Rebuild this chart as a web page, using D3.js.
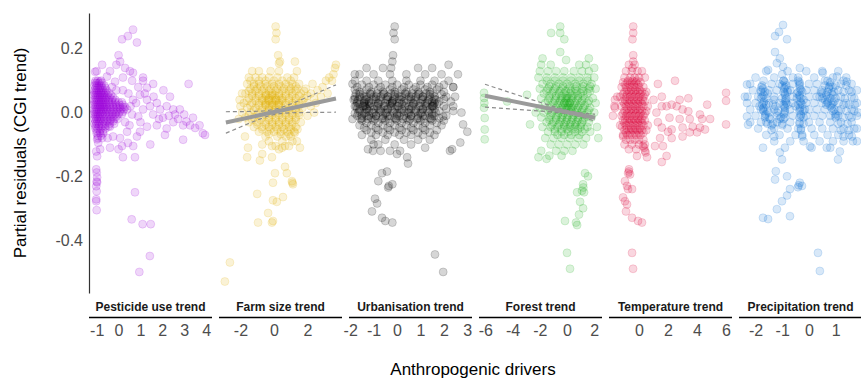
<!DOCTYPE html>
<html><head><meta charset="utf-8">
<script src="https://cdn.jsdelivr.net/npm/d3@7/dist/d3.min.js"></script>
<style>body{margin:0;background:#fff}svg{display:block;font-family:"Liberation Sans",Arial,sans-serif}</style>
</head><body>
<script>
const panels = ["Pesticide use trend","Farm size trend","Urbanisation trend","Forest trend","Temperature trend","Precipitation trend"];
const colors = ["#9B00D9","#E2AE00","#000000","#1DAF1D","#DC0035","#0B6FD6"];
const xLimits = [[-1.35,4.27],[-3.28,4.06],[-2.05,3.2],[-6.47,2.57],[-2.07,6.41],[-2.62,1.99]];
const xTicks = [[-1,0,1,2,3,4],[-2,0,2],[-2,-1,0,1,2,3],[-6,-4,-2,0,2],[0,2,4,6],[-2,-1,0,1]];
const yLimits = [-0.566,0.3125];
const yTicks = [-0.4,-0.2,0.0,0.2];
const yTickLabels = ["-0.4","-0.2","0.0","0.2"];
const yTitle = "Partial residuals (CGI trend)";
const xTitle = "Anthropogenic drivers";

// dense cores: [y, [x...]]
const pestRows = [
[0.10,[-1.05,-0.95,-0.8]],[0.085,[-1.1,-1.0,-0.9,-0.8,-0.65]],[0.07,[-1.1,-1.0,-0.9,-0.8,-0.7,-0.55]],
[0.055,[-1.15,-1.05,-0.95,-0.85,-0.75,-0.65,-0.5,-0.35]],[0.04,[-1.1,-1.0,-0.9,-0.8,-0.7,-0.6,-0.45,-0.3,-0.15]],
[0.025,[-1.15,-1.05,-0.95,-0.85,-0.75,-0.65,-0.55,-0.4,-0.25,-0.1,0.05,0.2]],[0.01,[-1.1,-1.0,-0.9,-0.8,-0.7,-0.6,-0.5,-0.35,-0.2,-0.05,0.1,0.25]],
[-0.005,[-1.15,-1.05,-0.95,-0.85,-0.75,-0.6,-0.45,-0.3,-0.15,0.0,0.15]],[-0.02,[-1.1,-1.0,-0.9,-0.8,-0.65,-0.5,-0.35,-0.2,-0.05]],
[-0.035,[-1.1,-1.0,-0.9,-0.75,-0.6,-0.4,-0.2]],[-0.05,[-1.05,-0.95,-0.8,-0.6]],[-0.065,[-1.0,-0.85,-0.7]],[-0.08,[-0.95,-0.75,-0.5]],
[0.0925,[-1.0,-0.9,-0.75]],[0.0775,[-1.05,-0.95,-0.85,-0.75,-0.6]],[0.0625,[-1.1,-1.0,-0.9,-0.8,-0.7,-0.6,-0.45]],
[0.0475,[-1.05,-0.95,-0.85,-0.75,-0.65,-0.55,-0.4,-0.25]],[0.0325,[-1.1,-1.0,-0.9,-0.8,-0.7,-0.6,-0.45,-0.3,-0.15,0.0,0.15]],
[0.0175,[-1.05,-0.95,-0.85,-0.75,-0.65,-0.55,-0.4,-0.25,-0.1,0.05,0.2,0.3]],[0.0025,[-1.1,-1.0,-0.9,-0.8,-0.7,-0.55,-0.4,-0.25,-0.1,0.05,0.2]],
[-0.0125,[-1.05,-0.95,-0.85,-0.7,-0.55,-0.4,-0.25,-0.1]],[-0.0275,[-1.05,-0.95,-0.85,-0.7,-0.55,-0.4,-0.25]],
[-0.0425,[-1.05,-0.9,-0.75,-0.6,-0.45]],[-0.0575,[-1.0,-0.85,-0.7]],[-0.0725,[-0.95,-0.8]]];
const pestPoints = [[0.66,0.26],[0.43,0.24],[0.16,0.23],[0.84,0.22],[0.0,0.18],[0.07,0.16],[-0.1,0.15],[0.3,0.14],[0.52,0.13],[-0.39,0.13],[-1.0,0.13],[-0.75,0.15],[1.12,0.10],[1.58,0.09],[3.2,0.09],[2.05,0.07],[2.35,0.05],[1.2,0.06],[1.3,0.04],[1.75,0.03],[2.8,0.01],[3.0,-0.006],[3.4,-0.016],[3.7,-0.04],[3.95,-0.07],[3.85,-0.065],[2.95,-0.04],[2.5,-0.03],[2.2,-0.05],[2.95,-0.085],[1.75,-0.04],[1.45,-0.1],[0.84,-0.075],[0.67,-0.105],[0.75,-0.14],[0.2,-0.14],[-0.39,-0.11],[0.0,-0.115],[-0.84,-0.115],[-0.93,-0.095],[0.75,-0.25],[0.6,-0.335],[1.1,-0.35],[1.47,-0.35],[1.43,-0.45],[0.95,-0.5],
[0.62,0.10],[0.9,0.08],[1.3,0.078],[0.98,0.056],[0.66,0.04],[0.39,0.01],[0.62,-0.006],[0.9,-0.012],[1.12,0.01],[1.44,0.02],[1.58,-0.006],[2.03,-0.016],[1.9,0.01],[2.2,0.02],[2.58,-0.006],[2.72,-0.02],[3.1,-0.028],[3.27,-0.04],[3.5,-0.048],[2.5,0.01],[2.12,-0.07],[1.3,-0.044],[0.98,-0.06],[0.39,-0.06],[0.07,-0.08],[-0.25,-0.075],[0.43,-0.095],[0.16,-0.105],[-0.39,-0.044],[1.12,0.11],[0.66,0.125],[0.2,0.11],[-0.16,0.097],[-0.53,0.113],[-0.85,0.097],[-1.07,0.128],[-1.07,0.094],
[-0.98,-0.084],[-1.02,-0.122],[-0.98,-0.137],[-1.02,-0.178],[-1.0,-0.188],[-0.98,-0.203],[-1.0,-0.216],[-0.98,-0.219],[-1.02,-0.231],[-1.0,-0.247],[-1.02,-0.272],[-1.02,-0.278],[-1.0,-0.306],
[0.45,0.06],[0.55,0.02],[0.3,-0.03],[0.5,-0.04],[0.8,0.03],[1.0,-0.03],[1.6,0.05],[1.85,-0.02],[2.3,-0.01],[0.2,0.07],[-0.1,0.07],[-0.3,0.08]];

const farmRows = [
[0.13,[-1.3,-0.9,-0.2,0.3]],[0.11,[-1.5,-1.1,-0.7,-0.3,0.2,0.8,1.2]],[0.09,[-1.6,-1.2,-0.9,-0.5,-0.1,0.3,0.7,1.1,1.5]],
[0.075,[-1.4,-1.0,-0.6,-0.2,0.2,0.6,1.0,1.4,1.9]],[0.06,[-1.7,-1.3,-0.9,-0.5,-0.1,0.3,0.7,1.1,1.6,2.2]],
[0.045,[-1.5,-1.1,-0.7,-0.3,0.1,0.5,0.9,1.3,1.8,2.4]],[0.03,[-1.8,-1.3,-0.9,-0.5,-0.1,0.3,0.7,1.1,1.5,2.0]],
[0.015,[-1.6,-1.1,-0.7,-0.3,0.1,0.5,0.9,1.3,1.7]],[0.0,[-1.9,-1.4,-0.9,-0.5,-0.1,0.3,0.7,1.1,1.5]],
[-0.015,[-1.7,-1.2,-0.7,-0.3,0.1,0.5,0.9,1.3]],[-0.03,[-1.5,-1.0,-0.5,-0.1,0.3,0.7,1.1,1.6]],
[-0.045,[-1.2,-0.7,-0.3,0.1,0.5,0.9,1.3]],[-0.06,[-0.9,-0.4,0.0,0.4,0.8,1.2]],[-0.075,[-0.5,0.2,0.7,1.0]],[-0.09,[-0.3,0.5,1.1]],[-0.105,[0.1,0.9]],
[0.1,[-1.4,-0.9,-0.5,0.0,0.5,1.0]],[0.0825,[-1.2,-0.8,-0.4,0.0,0.4,0.9,1.3]],[0.0675,[-1.5,-1.1,-0.7,-0.3,0.1,0.5,0.9,1.3,1.8]],
[0.0525,[-1.3,-0.9,-0.5,-0.1,0.3,0.7,1.1,1.5,2.0]],[0.0375,[-1.6,-1.1,-0.7,-0.3,0.1,0.5,0.9,1.3,1.7]],
[0.0225,[-1.4,-0.9,-0.5,-0.1,0.3,0.7,1.1,1.5]],[0.0075,[-1.2,-0.7,-0.3,0.1,0.5,0.9,1.3]],
[-0.0075,[-1.5,-1.0,-0.5,-0.1,0.3,0.7,1.1,1.5]],[-0.0225,[-1.3,-0.8,-0.3,0.1,0.5,0.9,1.3]],
[-0.0375,[-1.0,-0.5,-0.1,0.3,0.7,1.1]],[-0.0525,[-0.7,-0.2,0.2,0.6,1.0,1.4]],[-0.0675,[-0.3,0.4,0.9]],
[0.04,[-0.6,-0.35,-0.1,0.15,0.4]],[0.025,[-0.5,-0.25,0.0,0.25]],[0.055,[-0.45,-0.2,0.05]]];
const farmPoints = [[2.3,0.09],[2.6,0.07],[2.9,0.08],[3.1,0.1],[3.3,0.11],[3.46,0.10],[3.55,0.12],[3.64,0.14],[3.7,0.15],[2.8,0.05],[3.2,0.06],[2.5,0.03],[2.2,0.02],[2.0,-0.01],[2.4,0.0],
[0.1,0.27],[0.15,0.25],[0.1,0.23],[0.25,0.18],[0.36,0.16],[1.25,0.16],[1.37,0.13],[0.3,0.155],
[-1.73,-0.075],[-1.6,-0.14],[-1.55,-0.11],[-0.84,-0.15],[-0.7,-0.13],[-0.12,-0.14],[-2.0,0.02],[-2.1,-0.02],[-1.9,0.06],[-2.05,0.04],
[0.66,-0.17],[0.06,-0.19],[0.77,-0.19],[1.07,-0.215],[1.13,-0.225],[1.1,-0.22],[-0.06,-0.22],[0.54,-0.265],[0.17,-0.28],[-0.06,-0.275],[-1.0,-0.255],[-0.35,-0.315],[-0.95,-0.345],[-0.12,-0.345],[-0.06,-0.34],
[-2.63,-0.47],[-2.93,-0.53],
[1.37,-0.09],[1.55,-0.11],[1.25,-0.063],[0.66,-0.105],[0.48,-0.11],[0.3,-0.115],[-0.12,-0.105],[-0.7,-0.1]];
const farmFit = {x:[-2.87,3.7], y:[-0.031,0.044]};
const farmCI = {x:[-2.87,-2,-1,0,1,2,3,3.7], hi:[0.0027,0.0032,0.0043,0.0098,0.0271,0.0488,0.0712,0.087], lo:[-0.0647,-0.0452,-0.0235,-0.0062,-0.0007,0.0004,0.0010,0.0012]};

const urbRows = [
[0.14,[-1.3,-0.6,0.9,1.5]],[0.12,[-1.6,-1.0,-0.3,0.4,1.2,1.9]],[0.10,[-1.8,-1.3,-0.8,-0.2,0.4,1.0,1.6,2.2]],
[0.08,[-1.7,-1.2,-0.7,-0.2,0.3,0.8,1.3,1.8,2.4]],[0.065,[-1.6,-1.1,-0.6,-0.1,0.4,0.9,1.4,2.0]],
[0.05,[-1.8,-1.4,-0.9,-0.4,0.1,0.6,1.1,1.6,2.1]],[0.035,[-1.7,-1.2,-0.7,-0.2,0.3,0.8,1.3,1.8,2.3]],
[0.02,[-1.8,-1.4,-1.0,-0.5,0.0,0.5,1.0,1.5,2.0]],[0.005,[-1.6,-1.2,-0.7,-0.2,0.3,0.8,1.3,1.8,2.4]],
[-0.01,[-1.7,-1.3,-0.9,-0.4,0.1,0.6,1.1,1.6,2.1]],[-0.025,[-1.5,-1.0,-0.5,0.0,0.5,1.0,1.5,2.0]],
[-0.04,[-1.6,-1.1,-0.6,-0.1,0.4,0.9,1.4,1.9]],[-0.055,[-1.3,-0.8,-0.3,0.2,0.7,1.2,1.7]],
[-0.07,[-1.5,-0.9,-0.4,0.1,0.6,1.1,1.6]],[-0.085,[-1.1,-0.5,0.3,0.9,1.4]],[-0.1,[-0.8,-0.1,0.6]],
[0.0875,[-1.5,-1.0,-0.5,0.0,0.5,1.0,1.5,2.0]],[0.0725,[-1.8,-1.3,-0.8,-0.3,0.2,0.7,1.2,1.7]],
[0.0575,[-1.6,-1.1,-0.6,-0.1,0.4,0.9,1.4,1.9]],[0.0425,[-1.8,-1.3,-0.9,-0.4,0.1,0.6,1.1,1.6,2.0]],
[0.0275,[-1.6,-1.2,-0.8,-0.3,0.2,0.7,1.2,1.7]],[0.0125,[-1.7,-1.3,-0.8,-0.4,0.1,0.6,1.1,1.6,2.1]],
[-0.0025,[-1.8,-1.4,-1.0,-0.5,0.0,0.5,1.0,1.5]],[-0.0175,[-1.5,-1.1,-0.6,-0.1,0.4,0.9,1.4,1.8]],
[-0.0325,[-1.3,-0.8,-0.3,0.2,0.7,1.2,1.7]],[-0.0475,[-1.4,-0.9,-0.4,0.1,0.6,1.1]],[-0.0625,[-1.1,-0.6,-0.1,0.4,0.9,1.4]],
[0.06,[-1.75,-1.45,-1.15,-0.85,-0.55,-0.25,0.05,0.35,0.65,0.95,1.25,1.55]],
[0.04,[-1.65,-1.35,-1.05,-0.75,-0.45,-0.15,0.15,0.45,0.75,1.05,1.35,1.65]],
[0.02,[-1.75,-1.45,-1.15,-0.85,-0.55,-0.25,0.05,0.35,0.65,0.95,1.25,1.55]],
[0.0,[-1.65,-1.35,-1.05,-0.75,-0.45,-0.15,0.15,0.45,0.75,1.05,1.35,1.65]],
[-0.02,[-1.55,-1.25,-0.95,-0.65,-0.35,-0.05,0.25,0.55,0.85,1.15,1.45]],
[0.05,[-1.6,-1.3,-1.0,-0.7,-0.4,-0.1,0.2,0.5,0.8,1.1,1.4]],
[0.03,[-1.7,-1.4,-1.1,-0.8,-0.5,-0.2,0.1,0.4,0.7,1.0,1.3,1.6]],
[0.01,[-1.6,-1.3,-1.0,-0.7,-0.4,-0.1,0.2,0.5,0.8,1.1,1.4]],
[-0.01,[-1.5,-1.2,-0.9,-0.6,-0.3,0.0,0.3,0.6,0.9,1.2,1.5]],
[0.035,[-1.4,-0.2,1.5]],[0.02,[-1.35,1.5]]];
const urbPoints = [[-1.37,0.025],[1.54,0.025],[-0.2,0.03],[-1.0,-0.1],[-0.7,-0.12],
[-0.1,0.27],[-0.15,0.25],[-0.1,0.23],[-0.17,0.18],[-0.2,0.16],[-0.25,0.14],
[-0.43,-0.185],[-0.64,-0.19],[-0.2,-0.225],[-0.38,-0.235],[-0.35,-0.23],[-0.8,-0.215],[-0.94,-0.27],[-0.85,-0.285],[-1.07,-0.31],[-0.64,-0.33],[-0.5,-0.34],[-0.2,-0.345],
[1.62,-0.445],[1.97,-0.5],
[-1.24,-0.115],[-1.03,-0.12],[0.13,-0.12],[0.43,-0.14],[0.47,-0.16],[1.2,-0.11],[2.26,-0.12],[0.0,-0.13],[-0.3,-0.12],
[2.4,0.08],[2.48,0.05],[2.4,0.02],[1.97,-0.012],[2.82,-0.037],[3.0,-0.06],[2.7,-0.094],[2.35,-0.115],[2.6,0.12],[2.2,0.15],[2.75,0.0],
[-1.9,0.09],[-1.85,0.04],[-1.9,-0.02],[-1.8,0.12]];

const forestRows = [
[0.15,[-1.9,-1.2,0.9,1.4]],[0.13,[-2.0,-1.4,-0.8,-0.2,0.5,1.1,1.6]],[0.11,[-2.1,-1.5,-0.9,-0.3,0.3,0.9,1.5,2.0]],
[0.09,[-1.8,-1.2,-0.6,0.0,0.6,1.2,1.8]],[0.075,[-2.0,-1.4,-0.9,-0.4,0.1,0.6,1.1,1.6,2.1]],
[0.06,[-1.7,-1.1,-0.6,-0.2,0.2,0.6,1.0,1.5]],[0.045,[-1.9,-1.3,-0.8,-0.4,0.0,0.4,0.8,1.3,1.9]],
[0.03,[-1.6,-1.0,-0.6,-0.2,0.2,0.6,1.0,1.5,2.1]],[0.015,[-2.0,-1.3,-0.8,-0.4,0.0,0.4,0.8,1.2,1.7]],
[0.0,[-1.7,-1.1,-0.6,-0.2,0.2,0.6,1.0,1.5,2.0]],[-0.015,[-1.9,-1.3,-0.8,-0.4,0.0,0.4,0.8,1.3,1.8]],
[-0.03,[-1.5,-1.0,-0.5,-0.1,0.3,0.7,1.1,1.6]],[-0.045,[-1.8,-1.2,-0.7,-0.2,0.2,0.6,1.0,1.5,2.2]],
[-0.06,[-1.4,-0.9,-0.4,0.1,0.6,1.1,1.7]],[-0.08,[-1.6,-1.0,-0.4,0.2,0.8,1.4]],[-0.1,[-1.2,-0.6,0.0,0.6,1.2]],
[-0.12,[-1.9,-0.8,-0.2,0.4]],[-0.135,[-1.3,-0.4]],
[0.1,[-1.5,-0.9,-0.3,0.3,0.9,1.5]],[0.0825,[-1.3,-0.8,-0.3,0.2,0.7,1.2,1.7]],[0.0675,[-1.5,-1.0,-0.5,-0.1,0.3,0.7,1.2,1.7]],
[0.0525,[-1.3,-0.8,-0.4,0.0,0.4,0.8,1.2]],[0.0375,[-1.4,-0.9,-0.5,-0.1,0.3,0.7,1.1,1.6]],[0.0225,[-1.2,-0.7,-0.3,0.1,0.5,0.9,1.3]],
[0.0075,[-1.4,-0.9,-0.5,-0.1,0.3,0.7,1.1,1.6]],[-0.0075,[-1.2,-0.7,-0.3,0.1,0.5,0.9,1.3]],[-0.0225,[-1.3,-0.8,-0.4,0.0,0.4,0.8,1.2]],
[-0.0375,[-1.1,-0.6,-0.2,0.2,0.6,1.0]],[-0.0525,[-0.9,-0.4,0.0,0.4,0.8,1.3]],[-0.07,[-0.7,-0.2,0.3,0.9]],
[0.03,[-0.2,0.0,0.2]],[0.015,[-0.1,0.1,0.3]],[0.045,[-0.1,0.1]]];
const forestPoints = [[-6.1,0.062],[-6.1,0.046],[-6.08,0.03],[-6.1,0.015],[-6.05,-0.017],[-6.05,-0.053],[-6.05,-0.084],
[-4.4,0.035],[-2.94,0.056],[-2.72,-0.037],
[-0.5,0.27],[-1.17,0.25],[-0.5,0.25],[-0.2,0.23],[-0.5,0.19],[-0.07,0.165],
[1.32,-0.19],[1.54,-0.2],[1.18,-0.225],[1.1,-0.245],[1.25,-0.25],[0.74,-0.25],[0.96,-0.28],[1.18,-0.3],[0.88,-0.32],[-0.15,-0.34],[0.66,-0.345],[0.74,-0.353],[1.2,-0.235],
[0.0,-0.44],[0.22,-0.49],
[-2.3,0.0],[2.3,-0.08],[-2.1,-0.14],[-1.5,-0.145],[2.0,0.14],[1.6,0.17],[-1.8,0.17]];
const forestFit = {x:[-6.03,2.06], y:[0.053,-0.016]};
const forestCI = {x:[-6.03,-5,-4,-3,-2,-1,0,1,2.06], hi:[0.0888,0.0744,0.0603,0.0464,0.0325,0.0189,0.0069,-0.0005,-0.0049], lo:[0.0172,0.0142,0.0111,0.0080,0.0049,0.0013,-0.0037,-0.0133,-0.0271]};

const tempRows = [
[0.15,[-0.7,-0.3]],[0.13,[-0.9,-0.5,-0.1,0.2]],[0.11,[-1.0,-0.6,-0.3,0.0,0.4]],[0.095,[-1.1,-0.8,-0.5,-0.2,0.1]],
[0.08,[-1.2,-0.9,-0.6,-0.3,0.0,0.3]],[0.065,[-1.0,-0.7,-0.4,-0.1,0.2,0.5]],[0.05,[-1.3,-0.9,-0.6,-0.3,0.0,0.3]],
[0.035,[-1.1,-0.8,-0.5,-0.2,0.1,0.4]],[0.02,[-1.7,-1.2,-0.9,-0.6,-0.3,0.0,0.3,0.6]],[0.005,[-1.0,-0.7,-0.4,-0.1,0.2,0.5]],
[-0.01,[-1.8,-1.2,-0.9,-0.6,-0.3,0.0,0.3]],[-0.025,[-1.1,-0.8,-0.5,-0.2,0.1,0.4]],[-0.04,[-1.3,-0.9,-0.6,-0.3,0.0,0.3,0.6]],
[-0.055,[-1.0,-0.7,-0.4,-0.1,0.2,0.5]],[-0.07,[-1.1,-0.8,-0.5,-0.2,0.1]],[-0.085,[-0.9,-0.6,-0.3,0.0,0.3]],
[-0.1,[-1.0,-0.5,0.0,0.4]],[-0.115,[-0.7,-0.2]],
[0.07,[-0.85,-0.55,-0.25,0.05]],[0.04,[-0.95,-0.65,-0.35,-0.05,0.25]],[0.01,[-0.85,-0.55,-0.25,0.05]],
[-0.02,[-0.95,-0.65,-0.35,-0.05,0.2]],[-0.05,[-0.85,-0.55,-0.25,0.05]],[0.1,[-0.75,-0.45,-0.15]],
[0.0875,[-0.95,-0.65,-0.35,-0.05]],[0.0575,[-1.1,-0.8,-0.5,-0.2,0.1,0.4]],[0.0275,[-1.0,-0.7,-0.4,-0.1,0.2]],
[-0.0025,[-1.1,-0.8,-0.5,-0.2,0.1,0.4]],[-0.0325,[-1.0,-0.7,-0.4,-0.1,0.2]],[-0.0625,[-0.9,-0.6,-0.3,0.0,0.3]]];
const tempPoints = [[-0.4,0.27],[-0.4,0.25],[-0.45,0.23],[-0.4,0.18],[-0.4,0.16],[-0.45,0.14],
[1.3,0.09],[2.48,0.10],[1.57,0.05],[2.8,0.04],[3.4,0.045],[1.57,0.02],[1.9,0.02],[2.25,0.025],[2.6,0.02],[3.0,0.01],[3.4,0.004],[4.7,0.025],[4.2,-0.006],[4.35,-0.02],[4.9,-0.02],[3.5,-0.02],[2.8,-0.02],[2.1,-0.016],[1.57,-0.047],[2.25,-0.053],[3.0,-0.047],[3.7,-0.044],[4.2,-0.047],[4.55,-0.053],[2.0,-0.06],[3.5,-0.062],[3.0,-0.075],[4.0,-0.062],[1.45,-0.08],[1.65,-0.105],[1.1,-0.105],[1.9,-0.136],[1.57,-0.155],[2.25,-0.08],[1.2,0.0],[1.0,0.04],[1.3,-0.03],
[6.0,0.062],[6.0,0.037],[6.0,-0.037],
[0.28,-0.105],[0.41,-0.12],[0.55,-0.14],[-0.14,-0.136],[0.35,-0.11],[0.45,-0.125],
[-1.66,0.04],[-1.66,0.015],[-1.5,0.05],[-1.17,-0.044],[-1.1,-0.075],
[-0.69,-0.178],[-0.62,-0.194],[-0.97,-0.215],[-0.83,-0.23],[-0.76,-0.24],[-0.48,-0.24],[-1.1,-0.266],[-0.97,-0.278],[-0.83,-0.288],[-0.9,-0.31],[-0.48,-0.33],[-0.07,-0.34],[0.2,-0.345],[-0.48,-0.44],[-0.41,-0.49],[-0.7,-0.185],[-0.75,-0.19]];

const precipRows = [
[0.13,[-1.6,-0.8,-0.1,0.5,1.1]],[0.11,[-2.0,-1.3,-0.6,0.2,0.9,1.4]],[0.09,[-2.2,-1.4,-1.1,-0.6,0.0,0.3,1.2,1.6]],
[0.07,[-2.1,-1.5,-1.2,-0.7,-0.1,0.2,0.5,1.1,1.5,1.8]],[0.05,[-2.3,-1.9,-1.3,-0.6,0.0,0.3,0.7,1.2,1.6]],
[0.03,[-2.0,-1.5,-1.1,-0.6,-0.1,0.2,0.5,1.1,1.4,1.8]],[0.01,[-2.2,-1.8,-1.3,-0.7,0.0,0.3,0.6,1.2,1.6]],
[-0.01,[-2.0,-1.2,-0.6,-0.1,0.2,0.5,0.8,1.1,1.5,1.8]],[-0.03,[-2.2,-1.8,-1.2,-0.7,0.0,0.4,0.8,1.2,1.6]],
[-0.05,[-1.9,-1.3,-0.8,-0.4,0.1,0.5,0.9,1.3,1.7]],[-0.07,[-1.6,-1.1,-0.5,0.2,0.7,1.1,1.5]],
[-0.09,[-1.3,-0.7,-0.2,0.4,0.9,1.3,1.8]],[-0.11,[-0.9,0.1,0.8]],
[0.1,[-1.7,-0.95,-0.4,0.7,1.3]],[0.085,[-1.75,-1.0,-0.85,-0.35,0.6,0.8,1.0,1.4]],
[0.065,[-1.8,-1.65,-0.95,-0.8,-0.4,-0.25,0.45,0.7,0.95,1.3,1.6]],[0.045,[-1.8,-1.6,-1.0,-0.85,-0.45,-0.3,0.5,0.8,1.0,1.35,1.7]],
[0.025,[-1.75,-1.6,-1.35,-0.95,-0.8,-0.4,-0.25,0.65,0.85,1.3,1.5]],[0.005,[-1.7,-1.55,-1.15,-0.9,-0.35,-0.2,0.9,1.1,1.4,1.7]],
[-0.015,[-1.65,-1.5,-1.05,-0.9,-0.35,-0.2,1.0,1.3,1.6]],[-0.035,[-1.55,-1.35,-1.0,-0.35,-0.2,1.1,1.45]],
[-0.055,[-1.4,-0.3,1.2,1.5]],[-0.075,[-1.3,-0.25,1.3]],
[0.075,[-1.72,-0.92,-0.33,0.75]],[0.055,[-1.7,-0.9,-0.35,0.65,0.9]],[0.035,[-1.68,-0.88,-0.32,0.7,0.95]],
[0.015,[-1.7,-0.9,-0.33,0.85]],[-0.005,[-1.62,-0.93,-0.3,1.0]],[0.095,[-0.9,-0.35,0.8]]];
const precipPoints = [[-1.8,0.07],[-1.75,0.05],[-1.7,0.03],[-1.72,0.01],[-1.65,-0.01],[-1.6,-0.03],[-1.55,0.06],[-1.85,0.02],[-1.5,0.0],[-1.45,-0.02],[-1.4,-0.04],[-1.78,0.08],
[-1.0,0.12],[-0.95,0.1],[-0.9,0.08],[-0.9,0.06],[-0.88,0.04],[-0.92,0.02],[-0.9,0.0],[-0.95,-0.02],[-1.0,-0.04],[-1.1,-0.02],[-1.2,0.0],[-1.25,0.02],[-1.3,0.04],[-0.8,0.07],[-0.85,0.03],
[-0.4,0.11],[-0.35,0.09],[-0.3,0.07],[-0.35,0.05],[-0.3,0.03],[-0.35,0.01],[-0.3,-0.01],[-0.35,-0.03],[-0.3,-0.05],[-0.25,-0.07],[-0.5,0.02],[-0.45,0.06],[-0.2,0.04],[-0.15,0.01],
[0.4,0.05],[0.5,0.06],[0.6,0.04],[0.7,0.03],[0.8,0.02],[0.9,0.03],[0.95,0.01],[1.0,-0.01],[0.85,0.06],[0.75,0.08],[0.6,0.1],[0.9,0.08],
[-0.97,0.275],[-1.12,0.253],[-1.27,0.24],[-0.82,0.23],[-1.27,0.19],[-1.09,0.17],[-1.2,0.155],[-1.53,0.134],[-0.97,0.144],[-0.34,0.14],[0.52,0.125],[1.05,0.113],[1.42,0.097],[1.72,0.025],
[-2.32,0.088],[-2.4,0.05],[-2.32,0.03],[-2.32,-0.012],[-2.28,-0.038],
[-1.72,-0.11],[-1.72,-0.33],[-1.53,-0.334],[-1.09,-0.125],[-1.01,-0.147],[-1.24,-0.184],[-1.27,-0.21],[-0.82,-0.2],[-0.34,-0.22],[-0.26,-0.23],[-0.41,-0.234],[-0.38,-0.228],[-0.71,-0.24],[-0.82,-0.26],[-1.01,-0.278],[-1.2,-0.303],[-0.71,-0.325],[0.34,-0.44],[0.41,-0.497],
[0.04,-0.106],[0.67,-0.11],[1.09,-0.147],[1.16,-0.122],[1.65,-0.09],[1.61,-0.075],[1.8,-0.05],[1.85,0.0]];

const panelRows = [pestRows,farmRows,urbRows,forestRows,tempRows,precipRows];
const panelPoints = [pestPoints,farmPoints,urbPoints,forestPoints,tempPoints,precipPoints];
const panelFits = [null,{fit:farmFit,ci:farmCI},null,{fit:forestFit,ci:forestCI},null,null];

// ---- drawing ----
const W=861,H=384;
const svg=d3.select("body").append("svg").attr("width",W).attr("height",H);
const plotTop=13,plotBottom=293,panelW=123,gap=7,left0=89;
const y=d3.scaleLinear().domain(yLimits).range([plotBottom,plotTop]);

panels.forEach((name,i)=>{
  const x0=left0+i*(panelW+gap);
  const x=d3.scaleLinear().domain(xLimits[i]).range([x0,x0+panelW]);
  const pts=[];
  panelRows[i].forEach(([yy,xs])=>xs.forEach(xx=>pts.push([xx,yy])));
  panelPoints[i].forEach(p=>pts.push(p));
  const g=svg.append("g");
  g.selectAll("circle").data(pts).join("circle")
    .attr("cx",d=>x(d[0])).attr("cy",d=>y(d[1])).attr("r",4)
    .attr("fill",colors[i]).attr("fill-opacity",0.16)
    .attr("stroke",colors[i]).attr("stroke-opacity",0.16).attr("stroke-width",1);
  const f=panelFits[i];
  if(f){
    const ci=f.ci.x.map((v,k)=>({x:v,hi:f.ci.hi[k],lo:f.ci.lo[k]}));
    const lh=d3.line().x(d=>x(d.x)).y(d=>y(d.hi)).curve(d3.curveMonotoneX);
    const ll=d3.line().x(d=>x(d.x)).y(d=>y(d.lo)).curve(d3.curveMonotoneX);
    g.append("path").attr("d",lh(ci)).attr("fill","none").attr("stroke","#8c8c8c").attr("stroke-width",1.2).attr("stroke-dasharray","4,3");
    g.append("path").attr("d",ll(ci)).attr("fill","none").attr("stroke","#8c8c8c").attr("stroke-width",1.2).attr("stroke-dasharray","4,3");
    const fl=f.fit.x.map((v,k)=>[v,f.fit.y[k]]);
    g.append("path").attr("d",d3.line().x(d=>x(d[0])).y(d=>y(d[1]))(fl))
      .attr("fill","none").attr("stroke","#9a9a9a").attr("stroke-width",4);
  }
  svg.append("text").attr("x",x0+panelW/2).attr("y",311).attr("text-anchor","middle")
    .attr("font-size",12).attr("font-weight","bold").attr("fill","#1a1a1a").text(name);
  svg.append("line").attr("x1",x0).attr("x2",x0+panelW).attr("y1",317.5).attr("y2",317.5)
    .attr("stroke","#000").attr("stroke-width",1.5);
  const ax=svg.append("g").attr("transform","translate(0,317)")
    .call(d3.axisBottom(x).tickValues(xTicks[i]).tickFormat(d=>String(d)).tickSize(0).tickPadding(7.5));
  ax.select(".domain").remove();
  ax.selectAll("text").attr("font-size",16).attr("fill","#4d4d4d").attr("font-family",null);
});

const ay=svg.append("g").attr("transform",`translate(${left0},0)`)
  .call(d3.axisLeft(y).tickValues(yTicks).tickFormat((d,k)=>yTickLabels[k]).tickSize(0).tickPadding(6));
ay.select(".domain").attr("stroke","#333").attr("stroke-width",1.2);
ay.selectAll("text").attr("font-size",16).attr("fill","#4d4d4d").attr("font-family",null);

svg.append("text").attr("transform","translate(26,153) rotate(-90)").attr("text-anchor","middle")
  .attr("font-size",17).attr("fill","#000").text(yTitle);
svg.append("text").attr("x",473).attr("y",375).attr("text-anchor","middle")
  .attr("font-size",17).attr("fill","#000").text(xTitle);
</script>
</body></html>
